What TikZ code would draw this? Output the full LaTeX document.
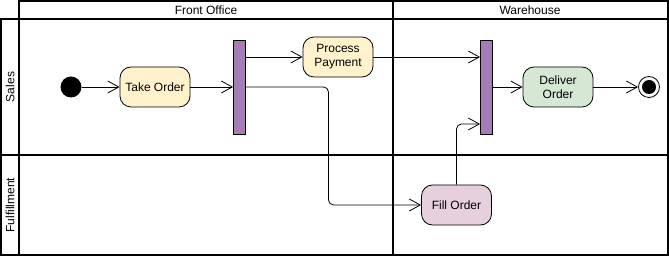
\documentclass[tikz,border=0pt]{standalone}
\usepackage{fontspec}
\setmainfont{Liberation Sans}
\usepackage{tikz}
\usetikzlibrary{arrows.meta,positioning,calc}
\usepackage{xcolor}
\definecolor{actyellow}{RGB}{255,242,204}
\definecolor{actgreen}{RGB}{213,232,212}
\definecolor{actpink}{RGB}{230,208,222}
\definecolor{barpurple}{RGB}{166,124,183}
\tikzset{
  action/.style={rectangle,rounded corners=11pt,draw,line width=0.8pt,align=center,
    minimum width=70pt,minimum height=40pt,inner sep=2pt,font=\fontsize{12}{14}\selectfont},
  syncbar/.style={rectangle,draw,line width=0.8pt,fill=barpurple,minimum width=12pt,minimum height=94pt,inner sep=0pt},
  lane/.style={line width=1.5pt},
  flow/.style={line width=0.8pt,-{Straight Barb[length=11pt,width=12pt]}},
}
\begin{document}
\begin{tikzpicture}[x=1pt,y=-1pt,font=\fontsize{12}{14}\selectfont]
  \useasboundingbox (0,0) rectangle (669,256);
  % swimlanes
  \draw[lane] (19,1) rectangle (668,19);
  \draw[lane] (1,19) rectangle (668,255);
  \draw[lane] (1,155) -- (668,155);
  \draw[lane] (19,19) -- (19,255);
  \draw[lane] (393,1) -- (393,255);
  \node (hFront) at (206,10) {Front Office};
  \node (hWare) at (530,10) {Warehouse};
  \node[rotate=90] (lSales) at (10,87) {Sales};
  \node[rotate=90] (lFill) at (10,205) {Fulfillment};
  % nodes
  \node[circle,fill=black,minimum size=21pt,inner sep=0pt] (start) at (71,87) {};
  \node[action,fill=actyellow] (take) at (155,87) {Take Order};
  \node[syncbar] (fork) at (239.5,87) {};
  \node[action,fill=actyellow] (pay) at (338,57) {Process\\Payment};
  \node[syncbar] (join) at (486.5,87) {};
  \node[action,fill=actgreen] (deliver) at (558,87) {Deliver\\Order};
  \node[action,fill=actpink] (fill) at (456.5,205) {Fill Order};
  \node[circle,draw,line width=0.8pt,fill=white,minimum size=21pt,inner sep=0pt] (stop) at (649,87) {};
  \node[circle,fill=black,minimum size=14pt,inner sep=0pt] at (stop) {};
  \coordinate (turn) at (328.5,87);
  \coordinate (joinin) at ($(join.west)+(0,37)$);
  % flows
  \draw[flow] (start) -- (take);
  \draw[flow] (take) -- (take -| fork.west);
  \draw[flow] (pay.west -| fork.east) -- (pay.west);
  \draw[flow] (pay.east) -- (pay.east -| join.west);
  \draw[flow,rounded corners=5pt] (fork.east) -- (turn) |- (fill.west);
  \draw[flow,rounded corners=5pt] (fill.north) |- (joinin);
  \draw[flow] (join.east) -- (deliver.west);
  \draw[flow] (deliver.east) -- (stop);
\end{tikzpicture}
\end{document}
